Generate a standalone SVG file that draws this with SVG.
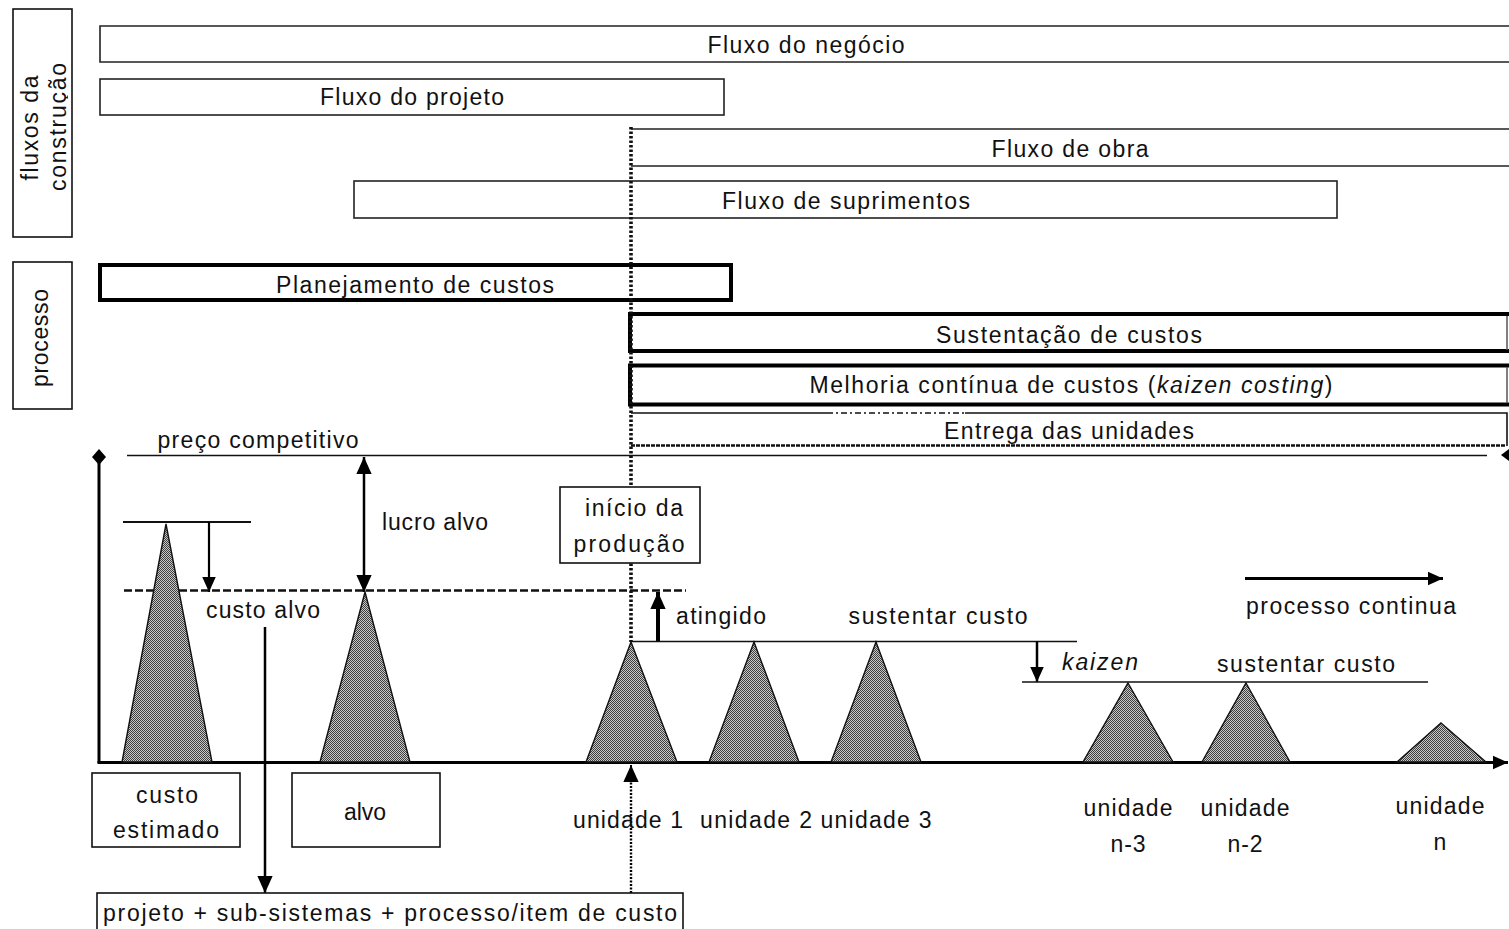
<svg xmlns="http://www.w3.org/2000/svg" width="1509" height="929" viewBox="0 0 1509 929">
  <style>
    text { font-family: "Liberation Sans", Arial, sans-serif; font-size: 23px; fill: #111; dominant-baseline: central; text-anchor: middle; }
    .it { font-style: italic; }
    .thin { fill: #fff; stroke: #222; stroke-width: 1.6; }
    .thick { fill: #fff; stroke: #000; stroke-width: 4; }
    .lbl { fill: #fff; stroke: #111; stroke-width: 1.6; }
    .tri { fill: url(#dots); stroke: #111; stroke-width: 1.4; stroke-linejoin: miter; }
    .ln { fill: none; stroke: #111; }
    .arr { fill: none; stroke: #000; }
  </style>
  <defs>
    <!-- checkered halftone used for the cost triangles -->
    <pattern id="dots" width="2" height="2" patternUnits="userSpaceOnUse">
      <rect width="2" height="2" fill="#c8c8c8"/>
      <rect width="1" height="1" fill="#3e3e3e"/>
      <rect x="1" y="1" width="1" height="1" fill="#3e3e3e"/>
    </pattern>
    <marker id="ah" viewBox="0 0 10 10" refX="10" refY="5" markerUnits="userSpaceOnUse" markerWidth="15" markerHeight="15" orient="auto-start-reverse">
      <path d="M0,0.5 L10,5 L0,9.5 z" fill="#000"/>
    </marker>
    <marker id="ahBig" viewBox="0 0 10 10" refX="10" refY="5" markerUnits="userSpaceOnUse" markerWidth="17" markerHeight="18" orient="auto-start-reverse">
      <path d="M0,0.5 L10,5 L0,9.5 z" fill="#000"/>
    </marker>
    <clipPath id="clipFlux">
      <rect x="14" y="10" width="54" height="226"/>
    </clipPath>
  </defs>

  <rect width="1509" height="929" fill="#fff"/>

  <!-- side captions -->
  <g id="side-fluxos">
    <rect class="lbl" x="13" y="9" width="59" height="228"/>
    <g clip-path="url(#clipFlux)">
      <text transform="translate(30,128) rotate(-90)" textLength="105" lengthAdjust="spacing">fluxos da</text>
      <text transform="translate(58,127) rotate(-90)" textLength="128" lengthAdjust="spacing">construção</text>
    </g>
  </g>
  <g id="side-processo">
    <rect class="lbl" x="13" y="262" width="59" height="147"/>
    <text transform="translate(40,338) rotate(-90)" textLength="98" lengthAdjust="spacing">processo</text>
  </g>

  <!-- construction flows -->
  <g id="fluxo-negocio">
    <path class="thin" d="M1512,26 H100 V62 H1512"/>
    <text x="806" y="45" textLength="197" lengthAdjust="spacing">Fluxo do negócio</text>
  </g>
  <g id="fluxo-projeto">
    <rect class="thin" x="100" y="79" width="624" height="36"/>
    <text x="412" y="97" textLength="184" lengthAdjust="spacing">Fluxo do projeto</text>
  </g>
  <g id="fluxo-obra">
    <path class="thin" d="M1512,129 H631 M631,166 H1512"/>
    <text x="1070" y="149" textLength="157" lengthAdjust="spacing">Fluxo de obra</text>
  </g>
  <g id="fluxo-suprimentos">
    <rect class="thin" x="354" y="181" width="983" height="37"/>
    <text x="846" y="201" textLength="248" lengthAdjust="spacing">Fluxo de suprimentos</text>
  </g>

  <!-- cost process phases -->
  <g id="planejamento">
    <rect class="thick" x="100" y="265" width="631" height="35"/>
    <text x="415" y="285" textLength="278" lengthAdjust="spacing">Planejamento de custos</text>
  </g>
  <g id="sustentacao">
    <rect class="thick" x="630" y="314" width="881" height="37"/>
    <line x1="1507" y1="316" x2="1507" y2="350" stroke="#555" stroke-width="1.5"/>
    <text x="1069" y="335" textLength="266" lengthAdjust="spacing">Sustentação de custos</text>
  </g>
  <g id="melhoria">
    <rect class="thick" x="630" y="365.5" width="881" height="39"/>
    <line x1="1507" y1="367" x2="1507" y2="403" stroke="#555" stroke-width="1.5"/>
    <text x="1071" y="385" textLength="523" lengthAdjust="spacing">Melhoria contínua de custos (<tspan class="it">kaizen costing</tspan>)</text>
  </g>
  <g id="entrega">
    <rect x="631" y="413" width="876" height="33" fill="#fff"/>
    <path class="ln" stroke-width="1.6" d="M631,413 H827 M965,413 H1507 V446"/>
    <path class="ln" stroke-width="1.6" stroke-dasharray="6 3 2 3" d="M827,413 H965"/>
    <path class="ln" stroke-width="2.5" stroke-dasharray="4 1" d="M631,445.5 H1506"/>
    <text x="1069" y="431" textLength="250" lengthAdjust="spacing">Entrega das unidades</text>
  </g>

  <!-- connectors, axes and reference lines -->
  <g id="connectors">
    <!-- start-of-production dotted guide -->
    <line class="ln" x1="631" y1="127" x2="631" y2="642" stroke="#000" stroke-width="3.6" stroke-dasharray="2.5 2"/>
    <!-- competitive price line -->
    <line class="ln" x1="127" y1="455.5" x2="1487" y2="455.5" stroke-width="1.6"/>
    <polygon points="1501,455 1509,449 1509,461" fill="#000"/>
    <!-- axes -->
    <line class="arr" x1="99" y1="763" x2="99" y2="458" stroke-width="3"/>
    <polygon points="99,449 106,457 99,465 92,457" fill="#000"/>
    <line class="arr" x1="97.5" y1="762.5" x2="1508" y2="762.5" stroke-width="3" marker-end="url(#ah)"/>
    <!-- estimated cost level and reduction arrow -->
    <line class="ln" x1="123" y1="522" x2="251" y2="522" stroke-width="2.2"/>
    <line class="arr" x1="209" y1="522" x2="209" y2="592" stroke-width="2.2" marker-end="url(#ah)"/>
    <!-- target cost dashed level -->
    <line class="ln" x1="124" y1="590.5" x2="686" y2="590.5" stroke="#000" stroke-width="2.4" stroke-dasharray="8 3"/>
    <!-- target profit -->
    <line class="arr" x1="364" y1="457" x2="364" y2="592" stroke-width="2.5" marker-start="url(#ahBig)" marker-end="url(#ahBig)"/>
    <!-- target cost to breakdown box -->
    <line class="arr" x1="265" y1="627" x2="265" y2="893" stroke-width="2.5" marker-end="url(#ahBig)"/>
    <!-- reached -->
    <line class="arr" x1="658" y1="642" x2="658" y2="592" stroke-width="4" marker-end="url(#ahBig)"/>
    <!-- sustain cost level 1 -->
    <line class="ln" x1="632" y1="641.5" x2="1077" y2="641.5" stroke-width="1.6"/>
    <!-- kaizen step -->
    <line class="arr" x1="1037" y1="641" x2="1037" y2="682" stroke-width="2.5" marker-end="url(#ah)"/>
    <line class="ln" x1="1022" y1="682" x2="1428" y2="682" stroke-width="1.6"/>
    <!-- process continues -->
    <line class="arr" x1="1245" y1="578.5" x2="1443" y2="578.5" stroke-width="3" marker-end="url(#ah)"/>
    <!-- breakdown to unit 1 -->
    <line class="arr" x1="631" y1="893" x2="631" y2="780" stroke-width="2.4" stroke-dasharray="2 1.5"/>
    <line class="arr" x1="631" y1="781" x2="631" y2="765" stroke-width="2" marker-end="url(#ahBig)"/>
  </g>

  <!-- cost triangles -->
  <g id="tri-estimado"><polygon class="tri" points="166,524 212,762 122,762"/></g>
  <g id="tri-alvo"><polygon class="tri" points="365,592 410,762 320,762"/></g>
  <g id="tri-u1"><polygon class="tri" points="631,642 677,762 586,762"/></g>
  <g id="tri-u2"><polygon class="tri" points="754,642 799,762 709,762"/></g>
  <g id="tri-u3"><polygon class="tri" points="876,642 921,762 831,762"/></g>
  <g id="tri-n3"><polygon class="tri" points="1128,683 1173,762 1083,762"/></g>
  <g id="tri-n2"><polygon class="tri" points="1246,683 1290,762 1202,762"/></g>
  <g id="tri-n"><polygon class="tri" points="1441,723 1486,762 1397,762"/></g>

  <!-- chart labels -->
  <g id="labels">
    <text x="258" y="440" textLength="201" lengthAdjust="spacing">preço competitivo</text>
    <text x="435" y="522" textLength="106" lengthAdjust="spacing">lucro alvo</text>
    <text x="263" y="610" textLength="114" lengthAdjust="spacing">custo alvo</text>
    <text x="721" y="616" textLength="90" lengthAdjust="spacing">atingido</text>
    <text x="938" y="616" textLength="179" lengthAdjust="spacing">sustentar custo</text>
    <text class="it" x="1100" y="662" textLength="76" lengthAdjust="spacing">kaizen</text>
    <text x="1306" y="664" textLength="178" lengthAdjust="spacing">sustentar custo</text>
    <text x="1351" y="606" textLength="210" lengthAdjust="spacing">processo continua</text>
    <text x="628" y="820" textLength="110" lengthAdjust="spacing">unidade 1</text>
    <text x="756" y="820" textLength="112" lengthAdjust="spacing">unidade 2</text>
    <text x="876" y="820" textLength="111" lengthAdjust="spacing">unidade 3</text>
    <text x="1128" y="808" textLength="89" lengthAdjust="spacing">unidade</text>
    <text x="1128" y="844" textLength="35" lengthAdjust="spacing">n-3</text>
    <text x="1245" y="808" textLength="89" lengthAdjust="spacing">unidade</text>
    <text x="1245" y="844" textLength="35" lengthAdjust="spacing">n-2</text>
    <text x="1440" y="806" textLength="89" lengthAdjust="spacing">unidade</text>
    <text x="1440" y="842">n</text>
  </g>

  <g id="inicio-producao">
    <rect class="lbl" x="560" y="487" width="140" height="76"/>
    <text x="634" y="508" textLength="98" lengthAdjust="spacing">início da</text>
    <text x="629" y="544" textLength="111" lengthAdjust="spacing">produção</text>
  </g>
  <g id="custo-estimado">
    <rect class="lbl" x="92" y="773" width="148" height="74"/>
    <text x="167" y="795" textLength="62" lengthAdjust="spacing">custo</text>
    <text x="166" y="830" textLength="106" lengthAdjust="spacing">estimado</text>
  </g>
  <g id="custo-alvo-box">
    <rect class="lbl" x="292" y="773" width="148" height="74"/>
    <text x="365" y="812" textLength="42" lengthAdjust="spacing">alvo</text>
  </g>
  <g id="decomposicao">
    <rect class="lbl" x="97" y="893" width="586" height="40"/>
    <text x="390" y="913" textLength="574" lengthAdjust="spacing">projeto + sub-sistemas + processo/item de custo</text>
  </g>
</svg>
